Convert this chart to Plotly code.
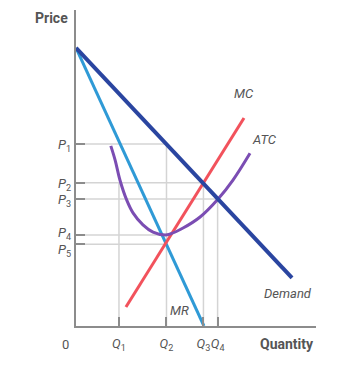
import plotly.graph_objects as go

# ---- data (in chart units) ----
q_vals = [1.79, 3.77, 5.31, 5.90]
q_labels = ["<i>Q</i><sub>1</sub>", "<i>Q</i><sub>2</sub>", "<i>Q</i><sub>3</sub>", "<i>Q</i><sub>4</sub>"]
p_vals = [5.76, 4.53, 4.02, 2.88, 2.59]
p_labels = ["<i>P</i><sub>1</sub>", "<i>P</i><sub>2</sub>", "<i>P</i><sub>3</sub>", "<i>P</i><sub>4</sub>", "<i>P</i><sub>5</sub>"]

# horizontal guide: price level -> quantity it reaches
p_guide_ends = [3.77, 5.31, 5.90, 3.77, 3.77]
# vertical guide: quantity -> price it reaches
q_guide_tops = [4.53, 5.76, 4.53, 4.02]

demand_x = [0.0, 9.0]
demand_y = [8.80, 1.52]
mr_x = [0.0, 5.33]
mr_y = [8.80, 0.0]
mc_x = [2.08, 7.0]
mc_y = [0.60, 6.58]
atc_x = [1.45, 1.63, 1.83, 2.11, 2.375, 2.79, 3.21, 3.71, 3.92, 4.46, 5.17, 5.92, 6.54, 7.25]
atc_y = [5.70, 5.25, 4.62, 3.99, 3.58, 3.20, 2.97, 2.88, 2.91, 3.10, 3.45, 4.02, 4.62, 5.47]

GRID = "#d4d4d4"
AXIS = "#8c8c8c"
TEXT = "#555555"
FONT = "Roboto, sans-serif"
# small vertical nudges (px) so the close P4 / P5 labels stay legible
p_label_shift = [0, 0, 0, 3, -4]

fig = go.Figure()

for p, xe in zip(p_vals, p_guide_ends):
    fig.add_trace(go.Scatter(x=[0, xe], y=[p, p], mode="lines",
                             line=dict(color=GRID, width=1.5), hoverinfo="skip"))
for q, yt in zip(q_vals, q_guide_tops):
    fig.add_trace(go.Scatter(x=[q, q], y=[0, yt], mode="lines",
                             line=dict(color=GRID, width=1.5), hoverinfo="skip"))

fig.add_trace(go.Scatter(x=mr_x, y=mr_y, mode="lines",
                         line=dict(color="#2f9ad6", width=3)))
fig.add_trace(go.Scatter(x=mc_x, y=mc_y, mode="lines",
                         line=dict(color="#f2525c", width=3)))
fig.add_trace(go.Scatter(x=atc_x, y=atc_y, mode="lines",
                         line=dict(color="#7b4db3", width=3, shape="spline", smoothing=1.0)))
fig.add_trace(go.Scatter(x=demand_x, y=demand_y, mode="lines",
                         line=dict(color="#2a45a0", width=4)))

for p, lab, s in zip(p_vals, p_labels, p_label_shift):
    fig.add_annotation(x=0, y=p, text=lab, showarrow=False,
                       font=dict(family=FONT, size=13, color=TEXT),
                       xanchor="right", yanchor="middle", xshift=-3, yshift=s - 2)

ann_font = dict(family=FONT, size=13, color=TEXT)
fig.add_annotation(x=7.0, y=7.0, text="<i>MC</i>", showarrow=False, font=ann_font,
                   xanchor="center", yanchor="bottom", yshift=2)
fig.add_annotation(x=7.25, y=5.47, text="<i>ATC</i>", showarrow=False, font=ann_font,
                   xanchor="left", yanchor="bottom", xshift=0, yshift=4)
fig.add_annotation(x=4.3, y=0.5, text="<i>MR</i>", showarrow=False, font=ann_font,
                   xanchor="center", yanchor="middle")
fig.add_annotation(x=8.85, y=1.04, text="<i>Demand</i>", showarrow=False, font=ann_font,
                   xanchor="center", yanchor="middle")
fig.add_annotation(x=0, y=10, xref="x", yref="y", text="<b>Price</b>", showarrow=False,
                   font=dict(family=FONT, size=14, color=TEXT),
                   xanchor="right", yanchor="middle", xshift=-6, yshift=-8)
fig.add_annotation(x=10, y=0, text="<b>Quantity</b>", showarrow=False,
                   font=dict(family=FONT, size=14, color=TEXT),
                   xanchor="right", yanchor="top", yshift=-8)
fig.add_annotation(x=0, y=0, text="0", showarrow=False,
                   font=dict(family=FONT, size=13, color=TEXT),
                   xanchor="right", yanchor="top", xshift=-5, yshift=-9)

fig.update_layout(
    width=361, height=370,
    margin=dict(l=76, r=45, t=10, b=44),
    paper_bgcolor="white", plot_bgcolor="white",
    showlegend=False,
    font=dict(family=FONT, size=13, color=TEXT),
)
fig.update_xaxes(range=[0, 10], showgrid=False, zeroline=False,
                 showline=True, linecolor=AXIS, linewidth=1.5,
                 tickmode="array", tickvals=q_vals, ticktext=q_labels,
                 tickangle=0, ticklabelstandoff=5,
                 ticks="inside", ticklen=9, tickwidth=1.5, tickcolor=AXIS,
                 tickfont=dict(family=FONT, size=13, color=TEXT))
fig.update_yaxes(range=[0, 10], showgrid=False, zeroline=False,
                 showline=True, linecolor=AXIS, linewidth=1.5,
                 tickmode="array", tickvals=p_vals, showticklabels=False,
                 ticks="inside", ticklen=9, tickwidth=1.5, tickcolor=AXIS)

fig.write_html("out.html")
